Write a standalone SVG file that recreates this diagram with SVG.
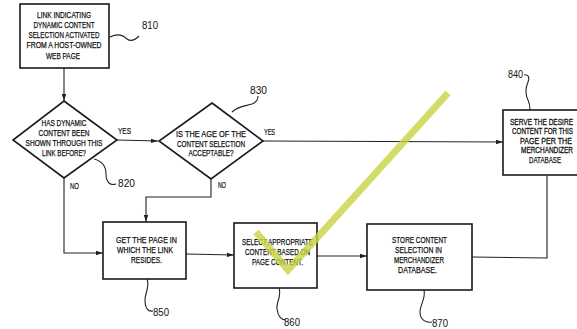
<svg xmlns="http://www.w3.org/2000/svg" width="577" height="329" viewBox="0 0 577 329">
<style>
.box{fill:#fff;stroke:#1a1a1a;stroke-width:1.6}
.ln{fill:none;stroke:#222;stroke-width:1.1}
.sq{fill:none;stroke:#222;stroke-width:1.1}
.t{font-family:"Liberation Sans",Arial,sans-serif;font-size:9px;fill:#111;stroke:#111;stroke-width:0.25;text-anchor:middle}
.ts{font-family:"Liberation Sans",Arial,sans-serif;font-size:9px;fill:#111;stroke:#111;stroke-width:0.3;text-anchor:start}
.n{font-family:"Liberation Sans",Arial,sans-serif;font-size:11.5px;fill:#111}
.yl{font-family:"Liberation Sans",Arial,sans-serif;font-size:9px;fill:#111;stroke:#111;stroke-width:0.2}
</style>
<defs>
<marker id="ah" markerWidth="8" markerHeight="6" refX="7" refY="3" orient="auto" markerUnits="userSpaceOnUse">
<path d="M0,0.8 L7,3 L0,5.2 Z" fill="#222"/>
</marker>
</defs>
<rect width="577" height="329" fill="#fff"/>

<g id="connectors">
<path class="ln" d="M64,68 L64,101" marker-end="url(#ah)"/>
<path class="ln" d="M117,140 L158,141" marker-end="url(#ah)"/>
<path class="ln" d="M263,141 L503,142" marker-end="url(#ah)"/>
<path class="ln" d="M64,178 L64,253 L103,253" marker-end="url(#ah)"/>
<path class="ln" d="M211,179 L211,197 L146,197 L146,222" marker-end="url(#ah)"/>
<path class="ln" d="M186,254 L234,255" marker-end="url(#ah)"/>
<path class="ln" d="M317,256 L367,256" marker-end="url(#ah)"/>
<path class="ln" d="M547,176 L547,258 L472,257"/>
<text class="yl" x="118" y="134" textLength="13" lengthAdjust="spacingAndGlyphs">YES</text>
<text class="yl" x="70" y="189" textLength="9" lengthAdjust="spacingAndGlyphs">NO</text>
<text class="yl" x="264" y="135" textLength="11" lengthAdjust="spacingAndGlyphs">YES</text>
<text class="yl" x="218" y="188" textLength="8" lengthAdjust="spacingAndGlyphs">NO</text>
</g>

<g id="n810">
<rect class="box" x="20" y="4" width="89" height="64"/>
<text class="t" x="64" y="18" textLength="54" lengthAdjust="spacingAndGlyphs">LINK INDICATING</text>
<text class="t" x="64" y="28" textLength="61" lengthAdjust="spacingAndGlyphs">DYNAMIC CONTENT</text>
<text class="t" x="64" y="38" textLength="71" lengthAdjust="spacingAndGlyphs">SELECTION ACTIVATED</text>
<text class="t" x="64" y="48" textLength="75" lengthAdjust="spacingAndGlyphs">FROM A HOST-OWNED</text>
<text class="t" x="63" y="59" textLength="34" lengthAdjust="spacingAndGlyphs">WEB PAGE</text>
<path class="sq" d="M110,37 C118,33 124,36 127,39 C131,42 135,40 139,36"/>
<text class="n" x="142" y="29" textLength="16" lengthAdjust="spacingAndGlyphs">810</text>
</g>

<g id="n820">
<path class="box" d="M64,101 L117,140 L64,178 L13,140 Z"/>
<text class="t" x="64" y="126" textLength="45" lengthAdjust="spacingAndGlyphs">HAS DYNAMIC</text>
<text class="t" x="64" y="136" textLength="51" lengthAdjust="spacingAndGlyphs">CONTENT BEEN</text>
<text class="t" x="64" y="146" textLength="77" lengthAdjust="spacingAndGlyphs">SHOWN THROUGH THIS</text>
<text class="t" x="64" y="156" textLength="44" lengthAdjust="spacingAndGlyphs">LINK BEFORE?</text>
<path class="sq" d="M94,159 C102,161 106,166 106,174 C106,182 110,186 116,184"/>
<text class="n" x="118" y="187" textLength="17" lengthAdjust="spacingAndGlyphs">820</text>
</g>

<g id="n830">
<path class="box" d="M212,103 L263,141 L211,179 L159,141 Z"/>
<text class="t" x="211" y="137" textLength="70" lengthAdjust="spacingAndGlyphs">IS THE AGE OF THE</text>
<text class="t" x="211" y="146.5" textLength="68" lengthAdjust="spacingAndGlyphs">CONTENT SELECTION</text>
<text class="t" x="211" y="156" textLength="45" lengthAdjust="spacingAndGlyphs">ACCEPTABLE?</text>
<path class="sq" d="M232,112 C238,106 246,106 252,104 C257,102 258,99 258,96"/>
<text class="n" x="250" y="94" textLength="17" lengthAdjust="spacingAndGlyphs">830</text>
</g>

<g id="n840">
<rect class="box" x="503" y="110" width="90" height="65"/>
<text class="ts" transform="translate(510,125) scale(0.72,1)" textLength="87.5" lengthAdjust="spacingAndGlyphs">SERVE THE DESIRE</text>
<text class="ts" transform="translate(512,134) scale(0.72,1)" textLength="84.7" lengthAdjust="spacingAndGlyphs">CONTENT FOR THIS</text>
<text class="ts" transform="translate(520,143.5) scale(0.72,1)" textLength="72.2" lengthAdjust="spacingAndGlyphs">PAGE PER THE</text>
<text class="ts" transform="translate(521,153) scale(0.72,1)" textLength="72.2" lengthAdjust="spacingAndGlyphs">MERCHANDIZER</text>
<text class="t" x="545" y="163" textLength="32" lengthAdjust="spacingAndGlyphs">DATABASE</text>
<path class="sq" d="M524,75 C528,74 530,77 528,82 C525,89 526,96 528,100 C530,104 530,107 530,110"/>
<text class="n" x="508" y="78" textLength="15" lengthAdjust="spacingAndGlyphs">840</text>
</g>

<g id="n850">
<rect class="box" x="103" y="222" width="83" height="57"/>
<text class="t" x="146.5" y="243" textLength="61" lengthAdjust="spacingAndGlyphs">GET THE PAGE IN</text>
<text class="t" x="145" y="253" textLength="56" lengthAdjust="spacingAndGlyphs">WHICH THE LINK</text>
<text class="t" x="146.5" y="263" textLength="31" lengthAdjust="spacingAndGlyphs">RESIDES.</text>
<path class="sq" d="M147,279 C150,287 145,293 145,300 C145,308 148,312 153,311"/>
<text class="n" x="153" y="316" textLength="16" lengthAdjust="spacingAndGlyphs">850</text>
</g>

<g id="n860">
<rect class="box" x="234" y="223" width="83" height="65"/>
<text class="t" x="277.5" y="245" textLength="71" lengthAdjust="spacingAndGlyphs">SELECT APPROPRIATE</text>
<text class="t" x="277.5" y="255" textLength="65" lengthAdjust="spacingAndGlyphs">CONTENT BASED ON</text>
<text class="t" x="277.5" y="265" textLength="51" lengthAdjust="spacingAndGlyphs">PAGE CONTENT.</text>
<path class="sq" d="M279,288 C282,296 276,302 277,309 C278,316 281,320 286,320"/>
<text class="n" x="284" y="326" textLength="16" lengthAdjust="spacingAndGlyphs">860</text>
</g>

<g id="n870">
<rect class="box" x="367" y="224" width="105" height="66"/>
<text class="t" x="419.5" y="243" textLength="55" lengthAdjust="spacingAndGlyphs">STORE CONTENT</text>
<text class="t" x="418.5" y="253" textLength="47" lengthAdjust="spacingAndGlyphs">SELECTION IN</text>
<text class="t" x="419" y="263" textLength="50" lengthAdjust="spacingAndGlyphs">MERCHANDIZER</text>
<text class="t" x="417.5" y="273" textLength="39" lengthAdjust="spacingAndGlyphs">DATABASE.</text>
<path class="sq" d="M424,290 C426,298 420,305 420,312 C420,320 426,323 432,322"/>
<text class="n" x="432" y="327" textLength="16" lengthAdjust="spacingAndGlyphs">870</text>
</g>

<path d="M256,232 L288,270 L448,93" fill="none" stroke="#c9d342" stroke-opacity="0.8" stroke-width="7"/>
</svg>
